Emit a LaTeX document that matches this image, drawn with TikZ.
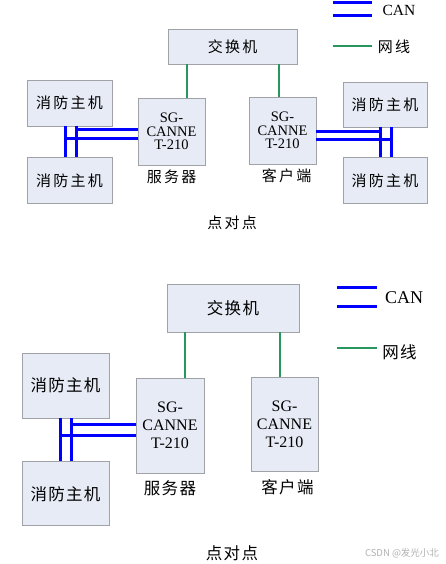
\documentclass[tikz,border=0pt]{standalone}
\usepackage{fontspec}
\setmainfont{Liberation Serif}
\newfontfamily\cjk[LetterSpace=15]{Noto Sans CJK SC}
\newfontfamily\cjkb[LetterSpace=8]{Noto Sans CJK SC}
\newfontfamily\cjkw{Noto Sans CJK SC}
\usetikzlibrary{positioning}
\definecolor{boxfill}{RGB}{230,235,245}
\definecolor{boxline}{RGB}{160,162,168}
\definecolor{canblue}{RGB}{0,0,255}
\definecolor{netgreen}{RGB}{40,150,95}

\begin{document}
\begin{tikzpicture}[
x=1pt,y=-1pt,
box/.style={rectangle,draw=boxline,fill=boxfill,line width=0.8pt,align=center,inner sep=0pt},
zhtop/.style={font=\cjk\fontsize{15}{17}\selectfont},
zhlow/.style={font=\cjkb\fontsize{16.5}{18}\selectfont},
gwtop/.style={font=\fontsize{14.5}{13.5}\selectfont},
gwlow/.style={font=\fontsize{16}{18}\selectfont},
tag/.style={inner sep=0pt},
can/.style={canblue,line width=3pt},
net/.style={netgreen,line width=2.8pt}
]
\useasboundingbox[fill=white] (0,0) rectangle (445,564);

% upper picture
\node[box,zhtop,minimum width=129pt,minimum height=35pt] (sw1) at (232.5,46.5) {交换机};
\node[box,gwtop,minimum width=67pt,minimum height=67pt] (srv1) at (171.5,131.5) {SG-\\CANNE\\T-210};
\node[box,gwtop,minimum width=67pt,minimum height=67pt] (cli1) at (282.5,130.5) {SG-\\CANNE\\T-210};
\node[box,zhtop,minimum width=85pt,minimum height=46pt] (ha1) at (69.5,103) {消防主机};
\node[box,zhtop,minimum width=85pt,minimum height=46pt,below=31pt of ha1] (hb1) {消防主机};
\node[box,zhtop,minimum width=84pt,minimum height=45pt] (hc1) at (385,104.5) {消防主机};
\node[box,zhtop,minimum width=84pt,minimum height=46pt,below=30pt of hc1] (hd1) {消防主机};
\node[tag,zhtop,below=4pt of srv1] (srvl1) {服务器};
\node[tag,zhtop,below=4pt of cli1,xshift=4pt] (clil1) {客户端};
\node[tag,zhtop] (p2p1) at (232,223) {点对点};

% legend
\draw[can] (333,2.5) -- (372,2.5);
\draw[can] (333,16) -- (372,16);
\node[tag,font=\fontsize{15.5}{17}\selectfont] (lgcan1) at (399,10) {CAN};
\draw[net] (333,46) -- (372,46);
\node[tag,zhtop] (lgnet1) at (394,47) {网线};

\coordinate (g1) at (187,0);
\coordinate (g2) at (279,0);
\draw[net] (sw1.south -| g1) -- (srv1.north -| g1);
\draw[net] (sw1.south -| g2) -- (cli1.north -| g2);

\coordinate (va1) at (65,0);
\coordinate (vb1) at (76,0);
\coordinate (ca1) at (76,130);
\coordinate (cb1) at (65,138.5);
\draw[can] (ha1.south -| va1) -- (hb1.north -| va1);
\draw[can] (ha1.south -| vb1) -- (hb1.north -| vb1);
\draw[can] (srv1.west |- ca1) -- (ca1);
\draw[can] (srv1.west |- cb1) -- (cb1);

\coordinate (vc1) at (380,0);
\coordinate (vd1) at (391,0);
\coordinate (cc1) at (380,132);
\coordinate (cd1) at (391,139.5);
\draw[can] (hc1.south -| vc1) -- (hd1.north -| vc1);
\draw[can] (hc1.south -| vd1) -- (hd1.north -| vd1);
\draw[can] (cli1.east |- cc1) -- (cc1);
\draw[can] (cli1.east |- cd1) -- (cd1);

% lower picture
\node[box,zhlow,minimum width=132pt,minimum height=48pt] (sw2) at (233,308) {交换机};
\node[box,gwlow,minimum width=68pt,minimum height=95pt] (srv2) at (170,425.5) {SG-\\CANNE\\T-210};
\node[box,gwlow,minimum width=67pt,minimum height=94pt] (cli2) at (284.5,424) {SG-\\CANNE\\T-210};
\node[box,zhlow,minimum width=87pt,minimum height=65pt] (ha2) at (65.5,385.5) {消防主机};
\node[box,zhlow,minimum width=87pt,minimum height=64pt,below=43pt of ha2] (hb2) {消防主机};
\node[tag,zhlow,below=7pt of srv2] (srvl2) {服务器};
\node[tag,zhlow,below=8pt of cli2,xshift=3pt] (clil2) {客户端};
\node[tag,zhlow] (p2p2) at (232,553) {点对点};

\draw[can] (337,287) -- (377,287);
\draw[can] (337,306) -- (377,306);
\node[tag,font=\fontsize{18}{20}\selectfont] (lgcan2) at (404,298) {CAN};
\draw[net] (337,348) -- (377,348);
\node[tag,zhlow] (lgnet2) at (399.5,352) {网线};

\coordinate (g3) at (185,0);
\coordinate (g4) at (280,0);
\draw[net] (sw2.south -| g3) -- (srv2.north -| g3);
\draw[net] (sw2.south -| g4) -- (cli2.north -| g4);

\coordinate (va2) at (60,0);
\coordinate (vb2) at (71,0);
\coordinate (ca2) at (71,424);
\coordinate (cb2) at (60,435);
\draw[can] (ha2.south -| va2) -- (hb2.north -| va2);
\draw[can] (ha2.south -| vb2) -- (hb2.north -| vb2);
\draw[can] (srv2.west |- ca2) -- (ca2);
\draw[can] (srv2.west |- cb2) -- (cb2);

\node[tag,font=\cjkw\fontsize{9.5}{10}\selectfont,text=black!30] (mark) at (402,553) {CSDN @发光小北};
\end{tikzpicture}
\end{document}
